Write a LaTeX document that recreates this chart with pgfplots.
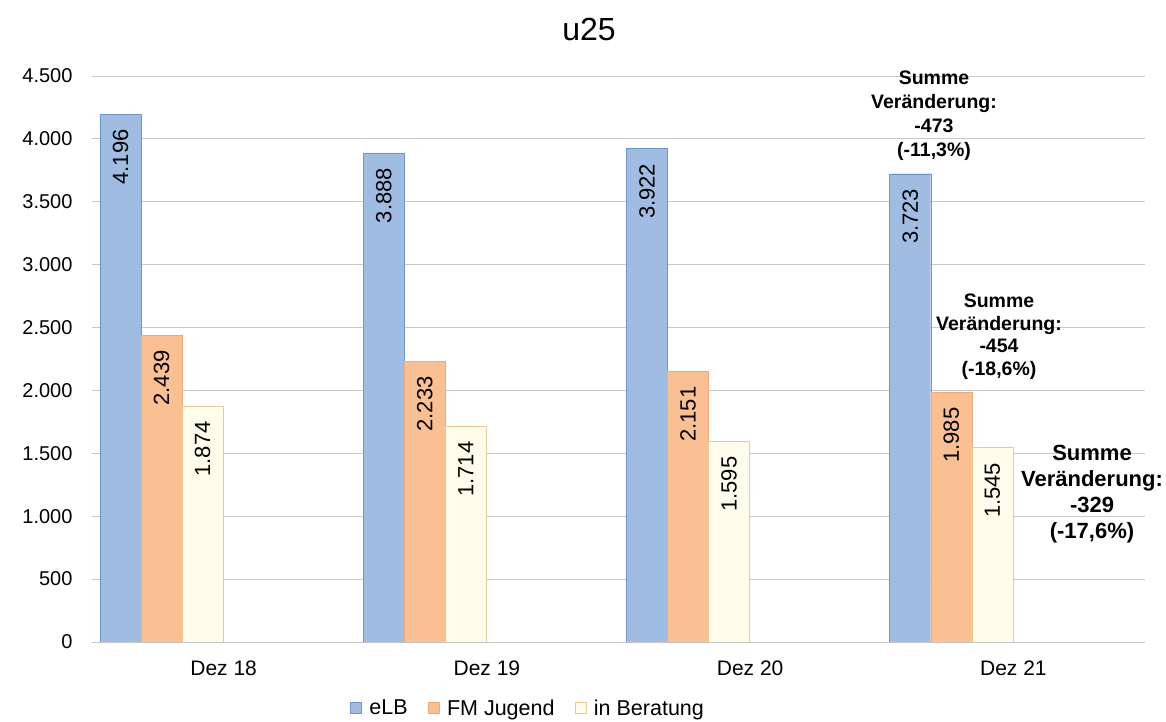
\documentclass[border=0pt]{standalone}
\usepackage{fontspec}
\setmainfont{Liberation Sans}
\usepackage{pgfplots}
\pgfplotsset{compat=1.18}
\definecolor{elb}{RGB}{160,188,226}
\definecolor{elbd}{RGB}{110,150,205}
\definecolor{fmj}{RGB}{250,192,148}
\definecolor{fmjd}{RGB}{240,170,120}
\definecolor{ber}{RGB}{255,252,235}
\definecolor{berd}{RGB}{235,200,150}
\definecolor{gridc}{RGB}{200,200,200}
\begin{document}
\begin{tikzpicture}
\useasboundingbox (0,0) rectangle (1166pt,722pt);
\begin{axis}[
 at={(92pt,80pt)}, anchor=south west,
 scale only axis, width=1053pt, height=566pt,
 xmin=-0.5, xmax=3.5, ymin=0, ymax=4500,
 xtick={0,1,2,3}, xticklabels={Dez 18,Dez 19,Dez 20,Dez 21},
 ytick={0,500,...,4500},
 ymajorgrids, grid style={gridc, line width=0.8pt},
 axis line style={draw=none},
 major tick length=0pt,
 /pgf/number format/1000 sep={.},
 /pgf/number format/use comma,
 /pgf/number format/assume math mode=true,
 xticklabel style={font=\fontsize{21}{25}\selectfont, yshift=-15pt},
 yticklabel style={font=\fontsize{20}{24}\selectfont, xshift=-16pt},
 ybar, bar width=0.156, bar shift=0pt,
 nodes near coords,
 every node near coord/.append style={rotate=90, anchor=east, inner xsep=15pt, font=\fontsize{22}{26}\selectfont, text=black},
 legend style={at={(0.414,-0.117)}, anchor=center, legend columns=-1, draw=none,
   font=\fontsize{21.5}{25}\selectfont,
   /tikz/every odd column/.append style={column sep=6pt},
   /tikz/every even column/.append style={column sep=18pt}},
 legend image code/.code={\draw[#1] (0pt,-5pt) rectangle (11pt,6pt);},
]
\addplot[fill=elb, draw=elbd] coordinates {(-0.392,4196) (0.608,3888) (1.608,3922) (2.608,3723)};
\addplot[fill=fmj, draw=fmjd] coordinates {(-0.236,2439) (0.764,2233) (1.764,2151) (2.764,1985)};
\addplot[fill=ber, draw=berd] coordinates {(-0.080,1874) (0.920,1714) (1.920,1595) (2.920,1545)};
\legend{eLB, FM Jugend, in Beratung}
\end{axis}
\node[font=\fontsize{32}{38}\selectfont] at (589pt,693pt) {u25};
\node[align=center, font=\fontsize{19.5}{24}\selectfont\bfseries] at (934pt,606pt) {Summe\\Veränderung:\\-473\\(-11,3\%)};
\node[align=center, font=\fontsize{19.5}{22.5}\selectfont\bfseries] at (999pt,385.5pt) {Summe\\Veränderung:\\-454\\(-18,6\%)};
\node[align=center, font=\fontsize{22}{26}\selectfont\bfseries] at (1092pt,228pt) {Summe\\Veränderung:\\-329\\(-17,6\%)};
\end{tikzpicture}
\end{document}
